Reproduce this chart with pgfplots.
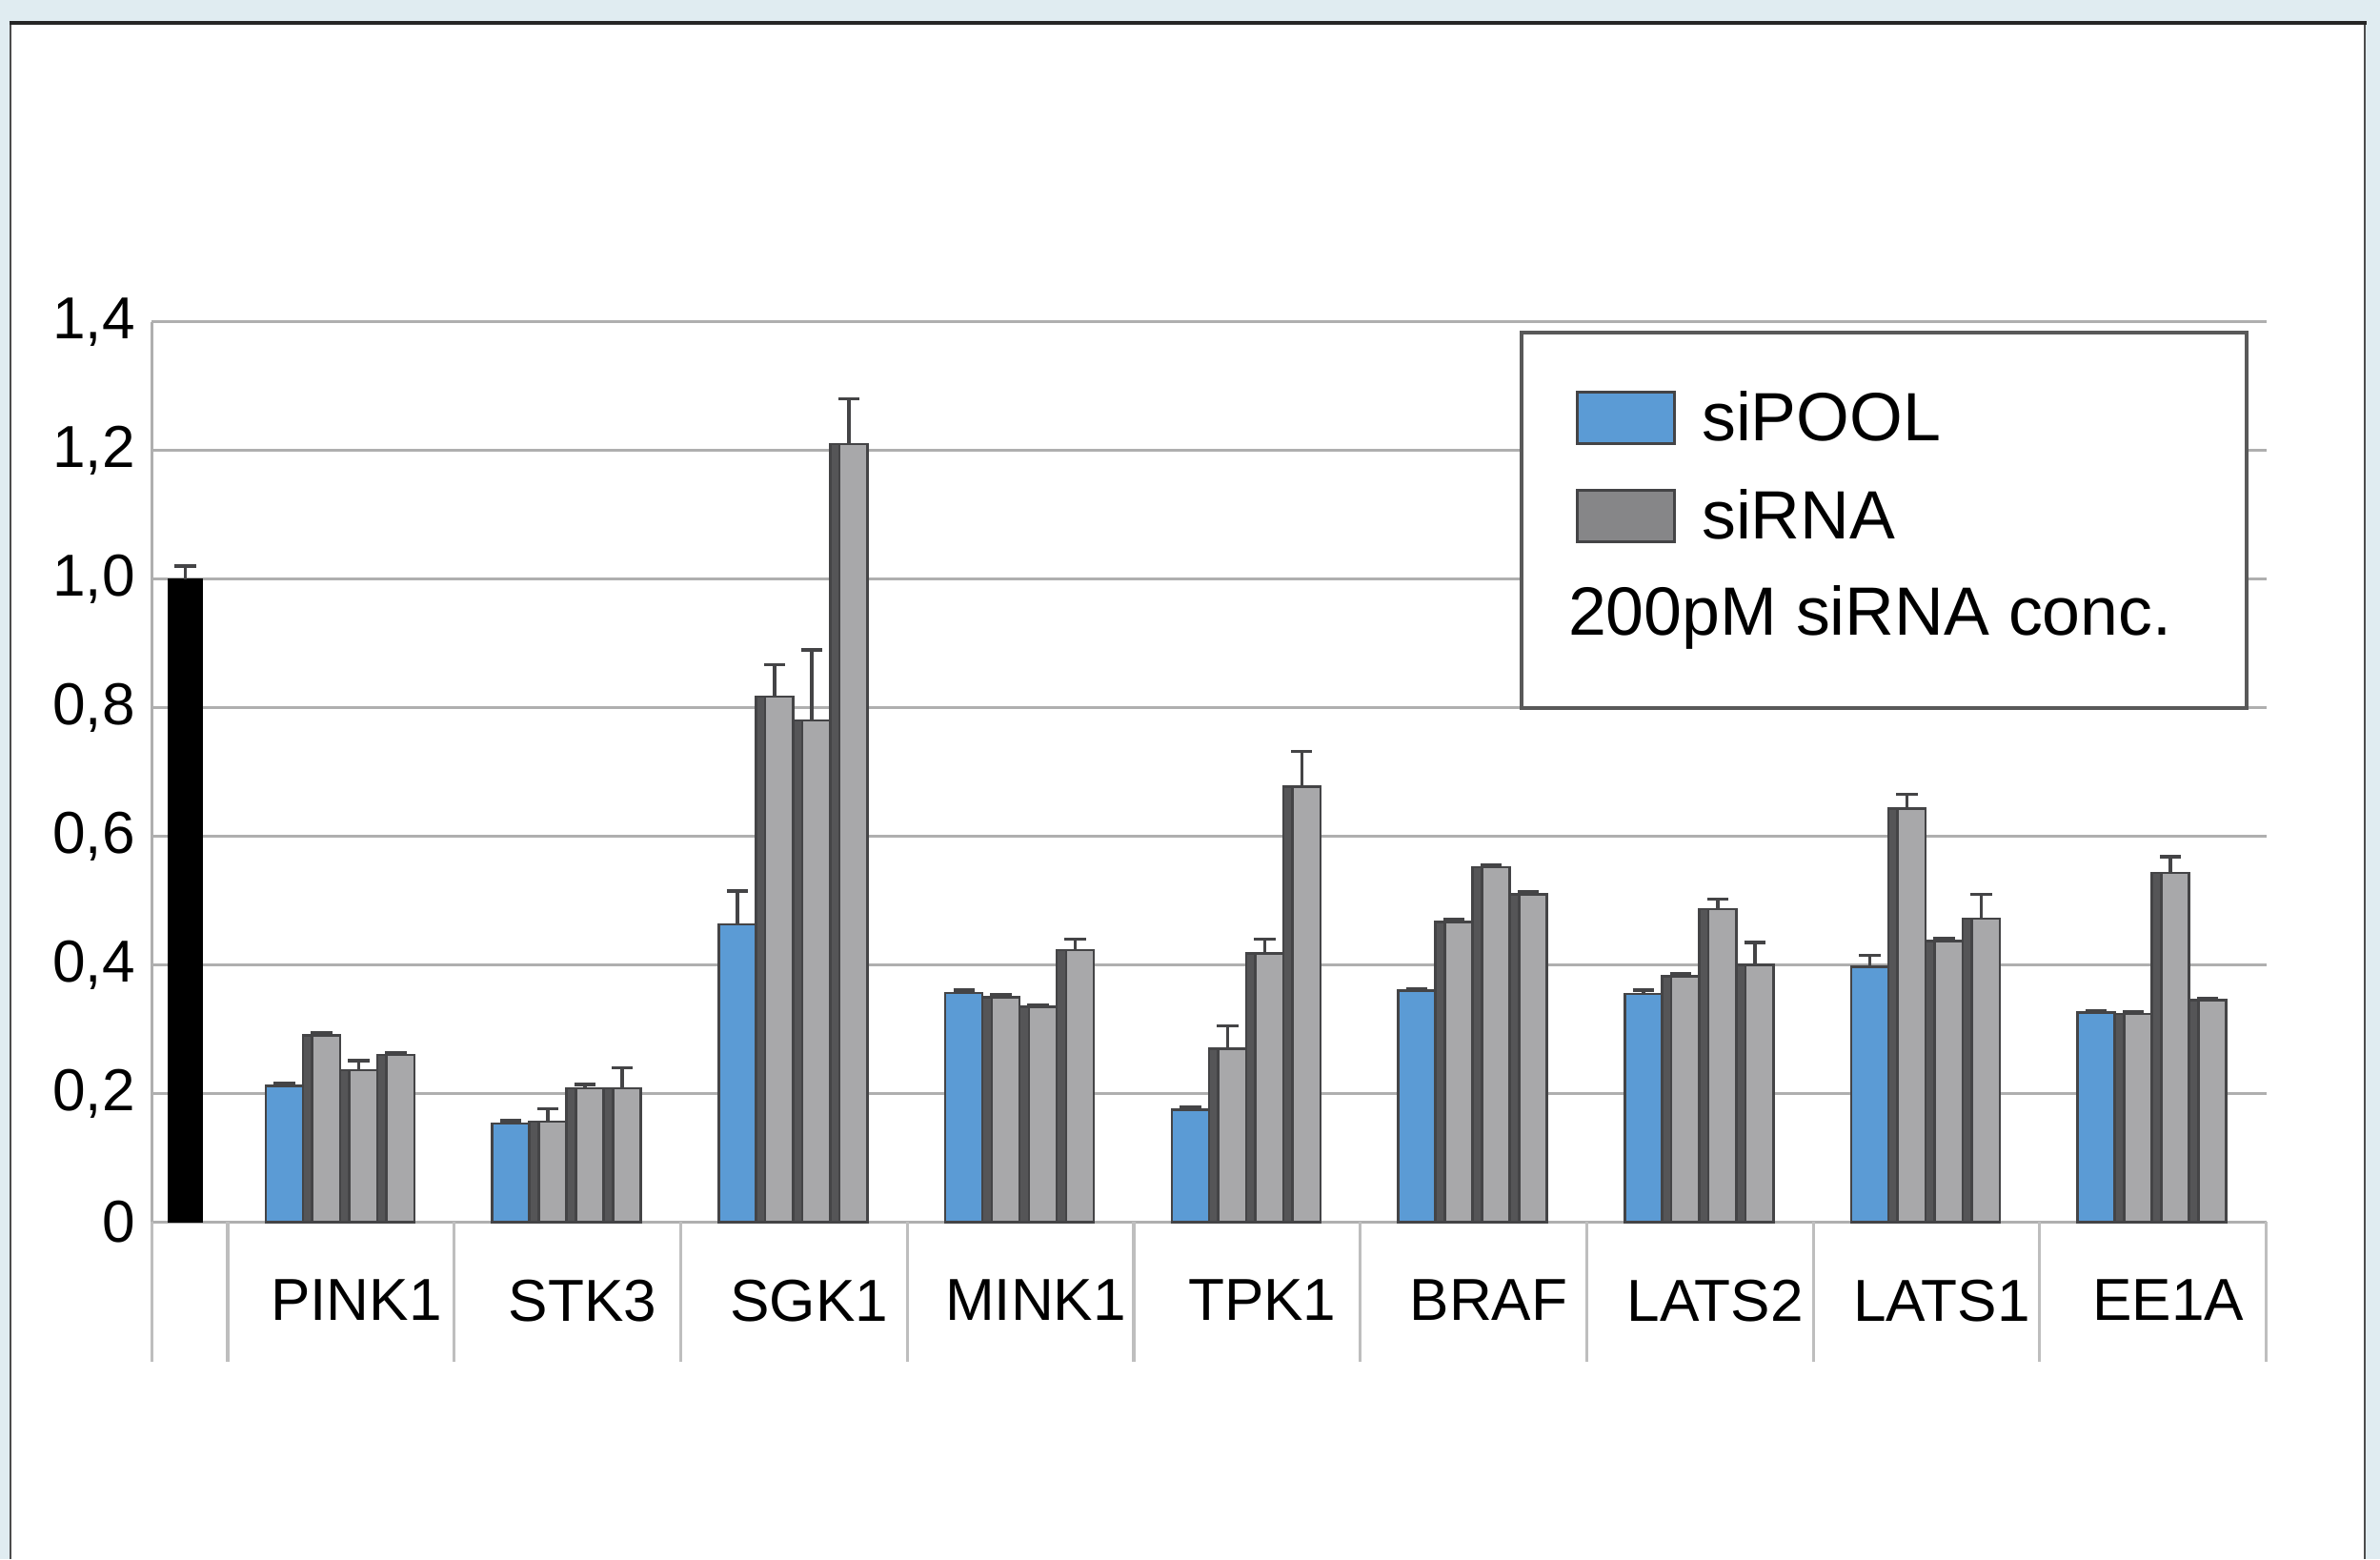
\documentclass[border=0pt]{standalone}
\usepackage{fontspec}
\setmainfont{Liberation Sans}
\usepackage{pgfplots}
\pgfplotsset{compat=1.18}
\usepackage{pgfplotstable}

\definecolor{bgblue}{RGB}{224,236,241}
\definecolor{siblue}{RGB}{91,155,213}
\definecolor{sigray}{RGB}{168,168,170}
\definecolor{sidark}{RGB}{85,85,87}
\definecolor{edge}{RGB}{68,68,70}
\definecolor{gridc}{RGB}{175,175,175}
\definecolor{divc}{RGB}{190,190,190}

% pos = category centre; pool = siPOOL; r1..r3 = three single siRNAs; *e = upper error
\pgfplotstableread{
pos pool pe r1 r1e r2 r2e r3 r3e
0.5 0.212 0.004 0.290 0.005 0.236 0.015 0.260 0.004
1.5 0.153 0.005 0.156 0.020 0.208 0.006 0.208 0.032
2.5 0.463 0.052 0.817 0.050 0.780 0.110 1.210 0.070
3.5 0.356 0.005 0.350 0.004 0.335 0.003 0.423 0.017
4.5 0.175 0.004 0.270 0.035 0.418 0.022 0.677 0.055
5.5 0.360 0.002 0.467 0.004 0.552 0.004 0.510 0.004
6.5 0.355 0.006 0.382 0.005 0.487 0.015 0.400 0.035
7.5 0.397 0.018 0.643 0.022 0.437 0.004 0.472 0.038
8.5 0.326 0.003 0.324 0.003 0.543 0.025 0.345 0.003
}\gdata

\pgfplotstableread{
pos val err
-0.188 1.0 0.02
}\ctrl

\begin{document}
\begin{tikzpicture}
\useasboundingbox (0,0) rectangle (784pt,513.5pt);
\fill[bgblue] (0,0) rectangle (784pt,513.5pt);
\fill[white] (3.5pt,0) rectangle (779pt,506pt);
\draw[black!70, line width=0.6pt] (3.5pt,0) -- (3.5pt,506pt) (779pt,506pt) -- (779pt,0);
\draw[black!85, line width=1.4pt] (3pt,506pt) -- (779.5pt,506pt);

\begin{axis}[
  at={(50pt,111pt)}, anchor=south west,
  width=696.5pt, height=296.5pt, scale only axis,
  xmin=-0.3356, xmax=9, ymin=0, ymax=1.4,
  axis lines*=left,
  axis line style={draw=gridc, line width=0.9pt},
  ytick={0,0.2,0.4,0.6,0.8,1.0,1.2,1.4},
  yticklabels={0,{0,2},{0,4},{0,6},{0,8},{1,0},{1,2},{1,4}},
  ymajorgrids, grid style={gridc, line width=0.9pt},
  major tick length=0pt,
  xtick={-0.168,0.5,1.5,2.5,3.5,4.5,5.5,6.5,7.5,8.5},
  xticklabels={,PINK1,STK3,SGK1,MINK1,TPK1,BRAF,LATS2,LATS1,EE1A},
  /pgf/number format/assume math mode=true,
  tick label style={font=\fontsize{19.5}{23}\selectfont, text=black},
  xticklabel style={yshift=-15.5pt, xshift=5pt},
  yticklabel style={xshift=-2pt},
  ybar, bar width=0.164,
  clip=false,
  error bars/y dir=plus, error bars/y explicit,
  error bars/error mark=|,
  error bars/error mark options={edge, line width=1.1pt, mark size=3.5pt},
  error bars/error bar style={edge, line width=1.1pt},
  mylegend/.style={legend image code/.code={\draw[##1, draw=edge, line width=1pt] (0pt,-6.5pt) rectangle (32pt,10.5pt);}},
  legend style={at={(rel axis cs:0.6468,0.9899)}, anchor=north west,
    draw=black!65, line width=1.2pt, fill=white,
    font=\fontsize{22.5}{27}\selectfont,
    inner xsep=18pt, inner ysep=19pt,
    nodes={inner sep=0pt, text height=16pt, text depth=5pt},
    column sep=8.5pt, row sep=10.8pt},
  legend cell align=left,
]
% dividers below the category axis
\pgfplotsinvokeforeach{-0.3356,0,1,2,3,4,5,6,7,8,9}{
  \draw[divc, line width=1pt] (axis cs:#1,0) -- ([yshift=-46pt]axis cs:#1,0);
}
% control
\addplot[forget plot, fill=black, draw=black, bar width=0.148, bar shift=0] table[x=pos, y=val, y error=err] {\ctrl};
% siPOOL
\addplot[forget plot, fill=siblue, draw=edge, line width=0.8pt, bar shift=-0.250] table[x=pos, y=pool, y error=pe] {\gdata};
% siRNA 1
\addplot[forget plot, fill=sidark, draw=edge, line width=0.8pt, bar shift=-0.086] table[x=pos, y=r1, y error=r1e] {\gdata};
\addplot[forget plot, fill=sigray, draw=edge, line width=0.8pt, bar width=0.123, bar shift=-0.0655, error bars/y dir=none] table[x=pos, y=r1] {\gdata};
% siRNA 2
\addplot[forget plot, fill=sidark, draw=edge, line width=0.8pt, bar shift=0.078] table[x=pos, y=r2, y error=r2e] {\gdata};
\addplot[forget plot, fill=sigray, draw=edge, line width=0.8pt, bar width=0.123, bar shift=0.0985, error bars/y dir=none] table[x=pos, y=r2] {\gdata};
% siRNA 3
\addplot[forget plot, fill=sidark, draw=edge, line width=0.8pt, bar shift=0.242] table[x=pos, y=r3, y error=r3e] {\gdata};
\addplot[forget plot, fill=sigray, draw=edge, line width=0.8pt, bar width=0.123, bar shift=0.2625, error bars/y dir=none] table[x=pos, y=r3] {\gdata};

\addlegendimage{mylegend, fill=siblue}
\addlegendentry{siPOOL}
\addlegendimage{mylegend, fill=sigray!80!black}
\addlegendentry{siRNA}
\addlegendimage{empty legend}
\addlegendentry{\hspace*{-44pt}200pM siRNA conc.\hspace*{6.5pt}}
\end{axis}
\end{tikzpicture}
\end{document}
